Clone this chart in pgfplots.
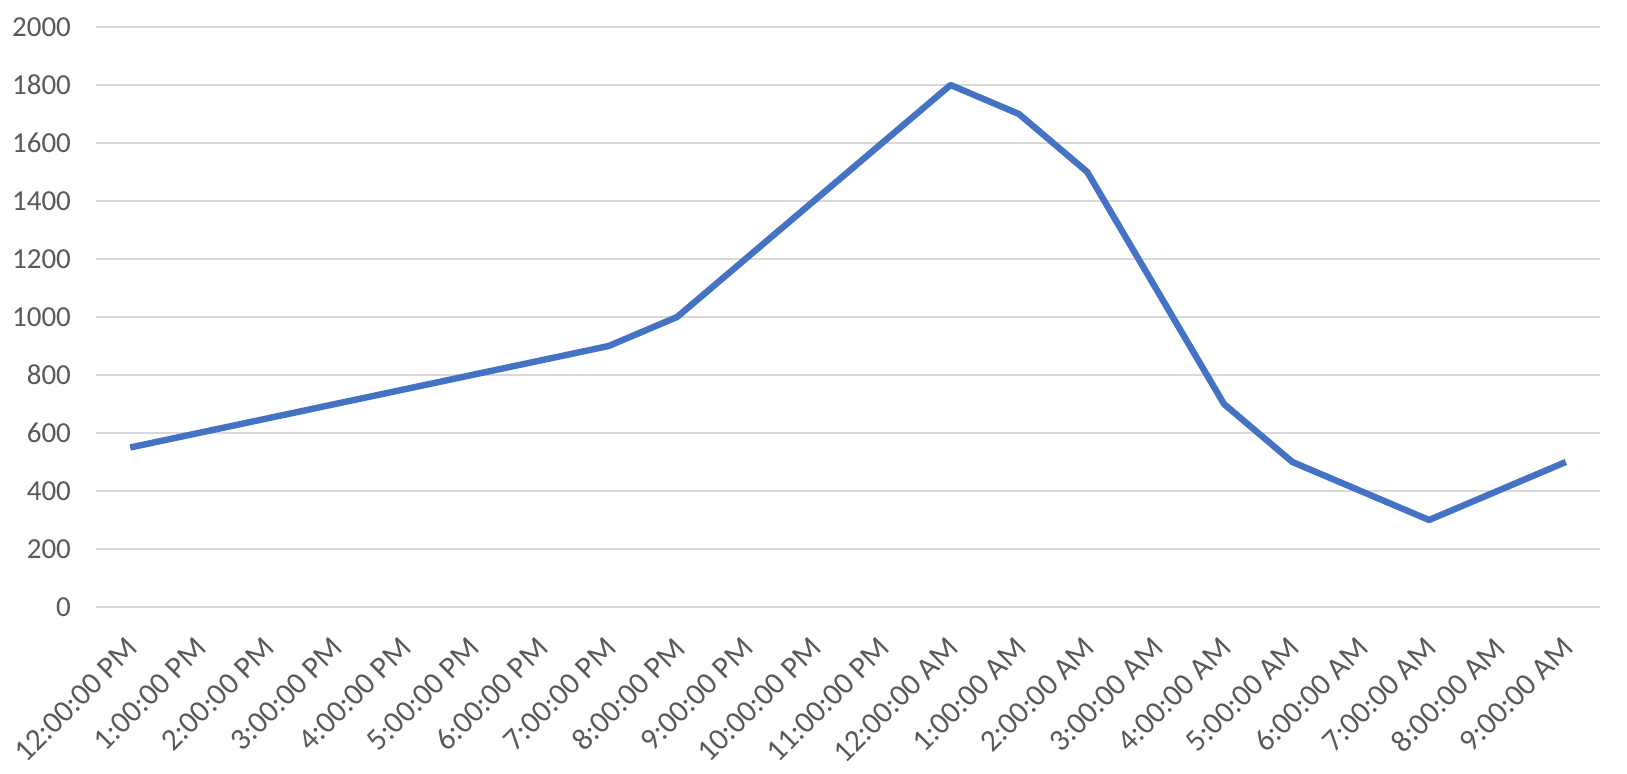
\documentclass[border=0pt]{standalone}
\usepackage{fontspec}
\setmainfont{Carlito}
\usepackage{pgfplots}
\pgfplotsset{compat=1.18}
\usetikzlibrary{calc}

\definecolor{excelblue}{HTML}{4472C4}
\definecolor{gridgray}{HTML}{D9D9D9}
\definecolor{labelgray}{HTML}{595959}

\begin{document}
\begin{tikzpicture}
\begin{axis}[
  scale only axis,
  width=752pt,
  height=290pt,
  xmin=-0.5, xmax=21.5,
  ymin=0, ymax=2000,
  ytick={0,200,...,2000},
  xtick=data,
  xticklabels={12:00:00 PM,1:00:00 PM,2:00:00 PM,3:00:00 PM,4:00:00 PM,5:00:00 PM,6:00:00 PM,7:00:00 PM,8:00:00 PM,9:00:00 PM,10:00:00 PM,11:00:00 PM,12:00:00 AM,1:00:00 AM,2:00:00 AM,3:00:00 AM,4:00:00 AM,5:00:00 AM,6:00:00 AM,7:00:00 AM,8:00:00 AM,9:00:00 AM},
  axis line style={draw=none},
  major tick length=0pt,
  ymajorgrids,
  grid style={gridgray, line width=1pt},
  tick label style={text=labelgray},
  yticklabel style={font=\fontsize{14.5}{17}\selectfont, xshift=-9pt},
  xticklabel style={font=\fontsize{15.5}{18}\selectfont, rotate=45, anchor=east, yshift=-13.5pt, xshift=-8.4pt},
  /pgf/number format/assume math mode=true,
  /pgf/number format/1000 sep={},
]
\addplot[excelblue, line width=3.2pt, line join=round] coordinates {
  (0,550) (1,600) (2,650) (3,700) (4,750) (5,800) (6,850) (7,900)
  (8,1000) (9,1200) (10,1400) (11,1600) (12,1800) (13,1700) (14,1500)
  (15,1100) (16,700) (17,500) (18,400) (19,300) (20,400) (21,500)
};
\end{axis}
\pgfresetboundingbox
\path ($(current axis.south west)+(-48pt,-83.5pt)$) rectangle ($(current axis.north east)+(13.5pt,13.5pt)$);
\end{tikzpicture}
\end{document}
